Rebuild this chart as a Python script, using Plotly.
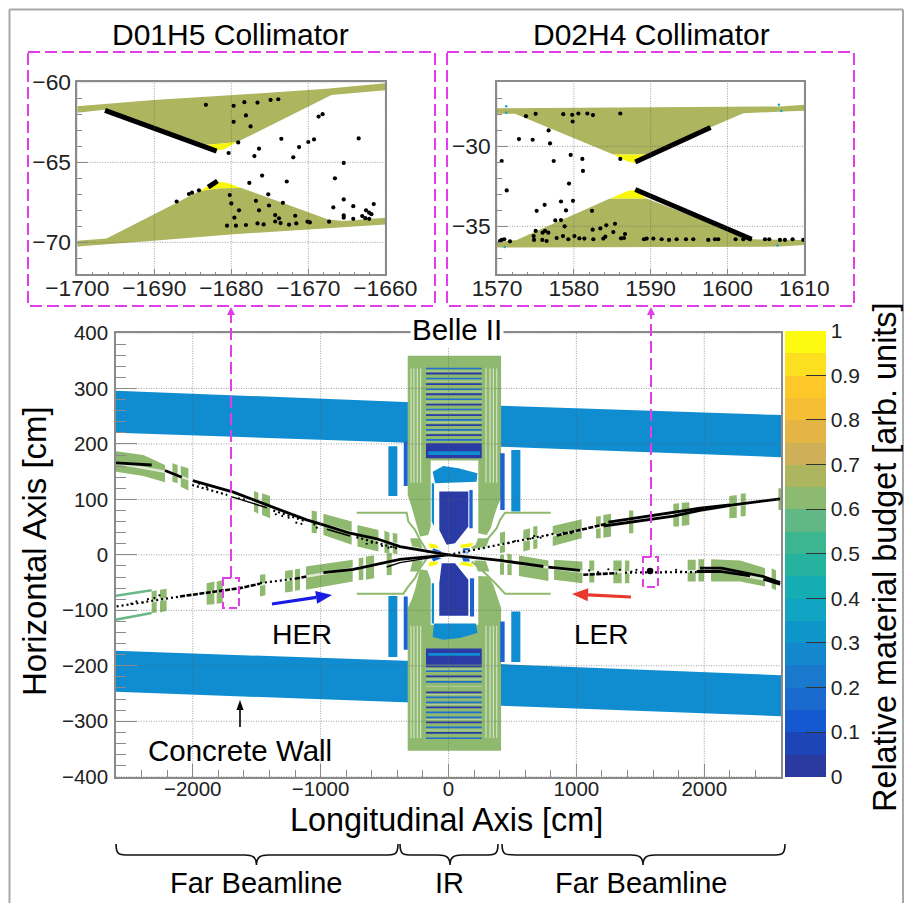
import plotly.graph_objects as go

W, H = 904, 903
FONT = "Liberation Sans"

# ---------- palette (colour bar levels, bottom to top) ----------
LEVELS = ["#2b3a9e", "#1c46b8", "#1559d0", "#1a6ad0", "#1a79cc", "#1488cc", "#0e96c8", "#10a3c2",
          "#14adb4", "#25b29e", "#3cb591", "#62b884", "#8cba70", "#aeb55f", "#cfb058", "#e4b545",
          "#f5be35", "#fdc828", "#fce020", "#fbfa10"]
CB_TICKS = [0, .1, .2, .3, .4, .5, .6, .7, .8, .9, 1]
CB_LABELS = ["0", "0.1", "0.2", "0.3", "0.4", "0.5", "0.6", "0.7", "0.8", "0.9", "1"]
C_WALL = "#0f8dd0"; C_BODY = "#8fb96f"; C_OLIVE = "#adb55e"; C_YEL = "#f8f806"
C_DARK = "#2a3ba6"; C_BLUE = "#1a62d2"; C_TEAL = "#6ab88a"; C_MAG = "#e23de8"

# ---------- main panel data (cm) ----------
WALLS = [
    [(-2600, 296), (-317, 276), (400, 269), (2600, 252), (2600, 176), (400, 195), (-317, 202), (-2600, 220)],
    [(-2600, -173), (-317, -191), (400, -197), (2600, -217), (2600, -291), (400, -272), (-317, -266), (-2600, -247)],
]
BODY = [
    [(-319, 359), (411, 359), (411, 102), (382, 87), (356, 69), (330, 48), (299, 36), (233, 39), (233, 170),
     (-139, 170), (-139, 51), (-158, 36), (-223, 33), (-244, 51), (-270, 75), (-293, 90), (-319, 108)],
    [(-319, -353), (411, -353), (411, -96), (377, -72), (351, -54), (312, -39), (233, -38), (233, -126),
     (-139, -126), (-139, -45), (-165, -28), (-223, -26), (-262, -63), (-288, -81), (-319, -96)],
    [(-300, 30), (-230, 30), (-200, 10), (-280, 10)],
    [(230, 30), (320, 30), (290, 10), (200, 10)],
    [(-300, -30), (-230, -30), (-200, -10), (-280, -10)],
    [(230, -30), (320, -30), (290, -10), (200, -10)],
]
ENDCAP_LIGHT = [
    [(-470, 196), (-400, 196), (-400, 106), (-470, 106)],
    [(491, 189), (562, 189), (562, 78), (491, 78)],
    [(-470, -74), (-400, -74), (-400, -184), (-470, -184)],
    [(491, -102), (562, -102), (562, -193), (491, -193)],
    [(-124, 150), (-40, 160), (77, 156), (226, 147), (220, 132), (-105, 129)],
    [(-124, -148), (-40, -153), (90, -150), (226, -141), (215, -124), (-113, -124)],
    [(-131, 129), (-113, 129), (-113, 51), (-131, 60)],
    [(-131, -51), (-113, -51), (-113, -124), (-131, -124)],
    [(-158, 187), (246, 187), (246, 180), (-158, 180)],
    [(-158, -177), (246, -177), (246, -182), (-158, -182)],
]
ENDCAP_BLUE = [
    [(-350, 204), (-319, 204), (-319, 124), (-350, 124)],
    [(405, 183), (439, 183), (439, 81), (405, 81)],
    [(-350, -75), (-319, -75), (-319, -171), (-350, -171)],
    [(405, -120), (439, -120), (439, -193), (405, -193)],
    [(163, 117), (189, 117), (189, 48), (163, 48)],
    [(168, -42), (200, -42), (200, -111), (168, -111)],
]
CORE = [
    [(-72, 114), (155, 114), (155, 51), (51, 21), (-14, 18), (-72, 45)],
    [(-72, -110), (155, -110), (155, -45), (51, -15), (-53, -15), (-72, -51)],
    [(-176, 201), (260, 201), (260, 174), (-176, 174)],
    [(-176, -169), (260, -169), (260, -198), (-176, -198)],
]
KLM_X = [-176, 260]
KLM_DARK_Y = [327, 308, 289.6, 271, 252, 234, 216, -201, -219, -248, -275, -302, -321]
KLM_BLUE_Y = [336, 318, 298.6, 280.6, 262, 243.4, 225.3, 207.3, -210, -229, -257, -266, -284, -293, -311, -330.6]
KLM_PALE_Y = [331, 313, 294, 276, 257, 239, 221, -206, -224, -237, -252, -270, -297, -316]
SIDE_X = [-293, -270, -244, -218, 293, 325, 351, 377]
SIDE_UP_Y = [336, 130]
SIDE_LOW_Y = [-128, -330]
THIN_GREEN = [
    [(-718, 76), (-327, 76), (-314, 60), (-262, 45), (-223, 27), (-158, 3)],
    [(799, 76), (442, 76), (403, 63), (377, 48), (299, 27), (181, 12)],
    [(-718, -70), (-353, -70), (-314, -57), (-262, -42), (-223, -24), (-158, -3)],
    [(799, -70), (442, -70), (377, -54), (299, -36), (181, -12)],
]
IP_YELLOW = [
    [(-158, 21), (-92, 18), (-79, 12), (-145, 12)],
    [(90, 18), (194, 22), (181, 15), (103, 12)],
    [(-158, -21), (-92, -18), (-79, -12), (-145, -12)],
    [(90, -18), (194, -22), (181, -15), (103, -12)],
]
IP_DARK = [
    [(-119, 12), (-53, 6), (-92, 3), (-132, 6)],
    [(116, 12), (168, 12), (155, 3), (103, 3)],
    [(-119, -12), (-53, -6), (-92, -3), (-132, -6)],
    [(116, -12), (168, -12), (155, -3), (103, -3)],
]
MAGNETS = [
    [(-2605, 187), (-2386, 180), (-2217, 162), (-2217, 131), (-2386, 142), (-2605, 150)],
    [(-2159, 165), (-2118, 162), (-2118, 129), (-2159, 132)],
    [(-2094, 160), (-2034, 156), (-2034, 116), (-2094, 123)],
    [(-1521, 115), (-1487, 112), (-1487, 74), (-1521, 78)],
    [(-1458, 111), (-1395, 106), (-1395, 66), (-1458, 72)],
    [(-1070, 80), (-1030, 78), (-1030, 39), (-1070, 40)],
    [(-978, 74), (-757, 60), (-757, 18), (-978, 36)],
    [(-712, 54), (-548, 45), (-548, 6), (-712, 15)],
    [(-501, 44), (-462, 40), (-462, 3), (-501, 4)],
    [(-436, 40), (-400, 38), (-400, 1), (-436, 3)],
    [(-2321, -66), (-2282, -64), (-2282, -104), (-2321, -105)],
    [(-2256, -63), (-2204, -61), (-2204, -101), (-2256, -104)],
    [(-1891, -51), (-1831, -48), (-1831, -89), (-1891, -90)],
    [(-1813, -48), (-1766, -46), (-1766, -87), (-1813, -88)],
    [(-1474, -36), (-1432, -35), (-1432, -73), (-1474, -75)],
    [(-1278, -29), (-1218, -27), (-1218, -66), (-1278, -68)],
    [(-1200, -26), (-1161, -25), (-1161, -63), (-1200, -65)],
    [(-1114, -21), (-749, -9), (-749, -48), (-1114, -63)],
    [(-702, -6), (-666, -5), (-666, -45), (-702, -46)],
    [(-645, -3), (-582, -1), (-582, -42), (-645, -45)],
    [(-483, 3), (-444, 4), (-444, -36), (-483, -37)],
    [(403, 40), (442, 42), (442, 5), (403, 3)],
    [(585, 45), (637, 48), (637, 9), (585, 6)],
    [(663, 51), (695, 52), (695, 12), (663, 10)],
    [(815, 52), (1041, 64), (1041, 30), (815, 16)],
    [(1154, 69), (1190, 70), (1190, 30), (1154, 30)],
    [(1211, 72), (1271, 74), (1271, 33), (1211, 31)],
    [(1412, 80), (1445, 80), (1445, 39), (1412, 39)],
    [(1758, 92), (1803, 93), (1803, 51), (1758, 51)],
    [(1824, 94), (1883, 95), (1883, 54), (1824, 52)],
    [(2196, 106), (2254, 108), (2254, 67), (2196, 66)],
    [(2285, 110), (2324, 111), (2324, 70), (2285, 69)],
    [(2580, 120), (2600, 120), (2600, 81), (2580, 81)],
    [(403, 0), (434, 0), (434, -36), (403, -36)],
    [(460, 3), (494, 0), (494, -37), (460, -36)],
    [(551, -1), (781, -10), (781, -47), (551, -38)],
    [(825, -9), (1047, -12), (1047, -51), (825, -45)],
    [(1101, -10), (1140, -10), (1140, -50), (1101, -50)],
    [(1289, -10), (1354, -10), (1354, -51), (1289, -51)],
    [(1380, -10), (1414, -10), (1414, -51), (1380, -51)],
    [(1870, -9), (1933, -9), (1933, -48), (1870, -48)],
    [(1954, -8), (1998, -8), (1998, -48), (1954, -48)],
    [(2053, -8), (2280, -10), (2475, -24), (2475, -57), (2280, -48), (2053, -48)],
    [(2527, -24), (2561, -28), (2561, -64), (2527, -60)],
]
TEAL_STRIPS = [[(-2605, -74), (-2321, -64)], [(-2605, -117), (-2321, -105)]]

BEAM_HALO = [
    [(-2605, 166), (-2217, 150), (-1682, 110), (-1109, 63), (-561, 27), (0, 0)],
    [(-2595, -93), (-1630, -60), (-1109, -39), (-535, -16), (0, 0)],
    [(0, 0), (611, 27), (1237, 52), (2201, 88), (2593, 101)],
    [(0, 0), (559, -16), (1028, -30), (1576, -32), (2097, -28), (2593, -50)],
]
BEAM_SOLID = [
    [(-2605, 166), (-2321, 162)],
    [(-2217, 152), (-2086, 140)],
    [(-2000, 134), (-1682, 113), (-1421, 90), (-1109, 63), (-978, 54), (-770, 39), (-561, 29), (-379, 15), (0, 0)],
    [(-978, -32), (-744, -26), (-535, -16), (-379, -8), (0, 0)],
    [(0, 0), (403, -10), (742, -21)],
    [(781, -22), (1028, -28)],
    [(1250, 59), (1967, 84), (2201, 90)],
    [(1211, 52), (1758, 70), (1967, 80), (2228, 90), (2593, 101)],
    [(1941, -30), (2123, -30), (2358, -38)],
    [(1967, -24), (2136, -24), (2462, -39), (2593, -50)],
    [(2462, -44), (2593, -53)],
]
BEAM_THIN = [
    [(-1700, 105), (-1420, 85)],
    [(-950, 46), (-770, 34)],
    [(-483, -22), (-379, -14), (0, 0)],
]
BEAM_DASHED = [
    [(-2099, -75), (-1630, -60), (-1474, -52)],
    [(-1200, -43), (-1109, -39)],
    [(846, 35), (1237, 56)],
    [(1054, -36), (1315, -33)],
]
BEAM_DOTTED = [
    [(-2005, 126), (-1730, 108)],
    [(-1370, 80), (-1110, 60)],
    [(-720, 32), (-380, 10)],
    [(-2595, -93), (-2099, -75)],
    [(-1474, -51), (-1200, -43)],
    [(0, 0), (403, 18), (845, 39)],
    [(1380, -32), (1941, -31)],
]
BLOB_X = [1576]
BLOB_Y = [-29]
SPECK_X = [-2480, -2440, -2390, -2350, -2300, -2260, -1950, -1890, -1640, -1600, -1350, -1300, -1250, -1190, -1150,
           -1050, -1030, -640, -600, -520, -470, -430, 470, 520, 640, 670, 720, 770, 860, 900, 960, 1100, 1170, 1250,
           1340, 1430, 1470, 1640, 1700, 1780, 1820]
SPECK_Y = [-88, -84, -86, -80, -78, -73, 128, 122, 102, 100, 73, 70, 67, 58, 56,
           55, 49, 20, 22, 16, 13, 14, 21, 25, 29, 34, 31, 35, 36, 40, 39, -28, -31, -26,
           -27, -30, -27, -25, -30, -27, -30]

MAIN_XT = [-2000, -1000, 0, 1000, 2000]
MAIN_YT = [-400, -300, -200, -100, 0, 100, 200, 300, 400]

# ---------- D01H5 inset ----------
D01_OLIVE = [
    [(-1700, -61.5), (-1690.1, -61.1), (-1679.7, -60.8), (-1667.6, -60.4), (-1660, -60.06), (-1660, -60.5),
     (-1667, -60.8), (-1679.3, -63.75), (-1683.2, -63.9), (-1696.2, -61.7), (-1700, -61.9)],
    [(-1700, -69.9), (-1696.2, -69.77), (-1684.1, -66.8), (-1681.5, -66.62), (-1678.7, -66.6), (-1667.4, -68.57),
     (-1665.5, -68.67), (-1660, -68.46), (-1660, -68.88), (-1666.8, -69.09), (-1679.7, -69.5), (-1690.1, -69.9),
     (-1700, -70.27)],
]
D01_YELLOW = [
    [(-1683.2, -63.9), (-1679.3, -63.75), (-1681, -64.2), (-1682, -64.25)],
    [(-1684.1, -66.8), (-1682, -66.18), (-1680.5, -66.3), (-1678.7, -66.6), (-1681.5, -66.62)],
]
D01_LINES = [[(-1696.4, -61.76), (-1681.9, -64.3)], [(-1683, -66.55), (-1681.8, -66.17)]]
D01_X = [-1683.3, -1679.7, -1678.3, -1676.6, -1674.9, -1673.9, -1679.7, -1678.1, -1677.5, -1679.1, -1680.35, -1676.4,
         -1677, -1673.5, -1671.2, -1671.95, -1670, -1669.26, -1668.66, -1668.14, -1663.46, -1665.4, -1666.54, -1676,
         -1672.8, -1677.66, -1675.2, -1680.2, -1680, -1676.8, -1675.1, -1673.3, -1679, -1676.4, -1679.6, -1674.3,
         -1673.8, -1671.7, -1674.3, -1673.6, -1672.5, -1671.56, -1670.1, -1669.8, -1667.3, -1666.75, -1665.4, -1664.16,
         -1661.5, -1662.5, -1662.1, -1661.8, -1665.4, -1665.4, -1664.16, -1663, -1662.6, -1662.1, -1680.56, -1679.4,
         -1678.1, -1676.6, -1675.8, -1687.1, -1685.5, -1685.1, -1684.2]
D01_Y = [-61.41, -61.47, -61.24, -61.27, -61.1, -61.06, -62.47, -62.07, -62.76, -63.76, -64.42, -64.15,
         -64.61, -63.53, -64.05, -64.69, -63.73, -63.57, -62.14, -61.99, -63.51, -65.04, -66, -65.83,
         -66.2, -66.29, -67, -67.05, -67.57, -67.41, -67.7, -67.53, -68, -68, -68.46, -68.3,
         -68.5, -68.34, -68.7, -68.8, -68.9, -68.82, -68.71, -68.76, -68.71, -67.82, -67.32, -67.74,
         -67.61, -68, -68.15, -68.24, -68.32, -68.46, -68.53, -68.36, -68.49, -68.53, -68.96, -68.96,
         -68.92, -68.82, -68.88, -67.45, -66.98, -66.9, -66.75]
D01_XT = [-1700, -1690, -1680, -1670, -1660]
D01_YT = [-70, -65, -60]

# ---------- D02H4 inset ----------
D02_OLIVE = [
    [(1570, -27.62), (1606.83, -27.51), (1610, -27.41), (1610, -27.78), (1607.3, -27.83), (1602.06, -27.93),
     (1598.6, -28.66), (1589.48, -30.52), (1585.14, -30.52), (1572.34, -27.97), (1570, -27.97)],
    [(1570, -36.02), (1572.56, -35.85), (1584.7, -33.26), (1589.48, -33.26), (1603.15, -35.81), (1610, -35.85),
     (1610, -36.17), (1606.8, -36.27), (1570, -36.33)],
]
D02_YELLOW = [
    [(1585.14, -30.52), (1589.48, -30.52), (1588, -31.05), (1587, -30.95)],
    [(1584.7, -33.26), (1589.48, -33.26), (1588, -32.72), (1587, -32.8)],
]
D02_LINES = [[(1588, -30.98), (1597.8, -28.82)], [(1588, -32.7), (1603.15, -35.81)]]
D02_X = [1573.77, 1575.03, 1578.63, 1579.8, 1580.59, 1581.76, 1582.49, 1586.05, 1579.85, 1576.72, 1572.86, 1574.64,
         1576.9, 1579.59, 1581.11, 1577.38, 1570.61, 1586.05, 1581.19, 1579.37, 1571.26, 1579.89, 1578.33, 1576.2,
         1575.16, 1578.98, 1582.36, 1577.59, 1578.33, 1578.8, 1584.23, 1585.36, 1583.45, 1582.45, 1585.14, 1586.66,
         1575.03, 1576.25, 1576.68, 1574.77, 1574.82, 1575.94, 1575.9, 1576.46, 1577.77, 1578.59, 1579.28, 1580.07,
         1580.72, 1581.37, 1582.54, 1583.84, 1584.1, 1586.14, 1586.53, 1570.61, 1570.95, 1571.69, 1570.39, 1589.13,
         1589.48, 1590.35, 1591.43, 1592.39, 1593.38, 1594.6, 1595.55, 1597.5, 1598.37, 1598.8, 1601.06, 1602.06,
         1602.93, 1604.88, 1605.44, 1606.83, 1607.48, 1608.48, 1609.87]
D02_Y = [-28.12, -27.97, -27.99, -28.03, -27.95, -27.95, -28.05, -27.95, -28.45, -29.01, -29.55, -29.59,
         -29.82, -30.54, -30.79, -30.92, -30.92, -30.79, -31.54, -32.33, -32.76, -33.41, -33.45, -33.66,
         -34.03, -34.01, -34.03, -34.63, -34.61, -35, -34.94, -34.84, -35.13, -35.21, -35.36, -35.48,
         -35.29, -35.29, -35.4, -35.61, -35.85, -35.4, -35.85, -35.92, -35.73, -35.61, -35.81, -35.61,
         -35.75, -35.77, -35.81, -35.77, -35.65, -35.75, -35.73, -35.85, -35.81, -35.94, -35.92, -35.81,
         -35.77, -35.77, -35.81, -35.85, -35.81, -35.81, -35.81, -35.85, -35.81, -35.81, -35.81, -35.81,
         -35.81, -35.81, -35.81, -35.85, -35.85, -35.81, -35.85]
D02_SPECK_X = [1571.2, 1571.2, 1606.7, 1607, 1571, 1606.5]
D02_SPECK_Y = [-27.5, -27.9, -27.4, -27.8, -36.3, -36.2]
D02_XT = [1570, 1580, 1590, 1600, 1610]
D02_YT = [-35, -30]


# ---------- helpers ----------
def join(polys):
    xs, ys = [], []
    for p in polys:
        xs += [a for a, _ in p] + [None]
        ys += [b for _, b in p] + [None]
    return xs, ys


fig = go.Figure()


def fill(polys, color, ax=""):
    xs, ys = join(polys)
    fig.add_trace(go.Scatter(x=xs, y=ys, mode="lines", fill="toself", fillcolor=color, line=dict(width=0),
                             xaxis="x" + ax, yaxis="y" + ax, hoverinfo="skip", showlegend=False))


def lines(polys, color, width, dash="solid", ax=""):
    xs, ys = join(polys)
    fig.add_trace(go.Scatter(x=xs, y=ys, mode="lines", line=dict(color=color, width=width, dash=dash),
                             xaxis="x" + ax, yaxis="y" + ax, hoverinfo="skip", showlegend=False))


def grid(xt, yt, xr, yr, ax=""):
    segs = [[(v, yr[0]), (v, yr[1])] for v in xt] + [[(xr[0], v), (xr[1], v)] for v in yt]
    lines(segs, "rgba(95,95,95,0.6)", 1, "1px,1.5px", ax)


def hl(ys, x, color, width):
    lines([[(x[0], v), (x[1], v)] for v in ys], color, width)


def vl(xs, y, color, width):
    lines([[(v, y[0]), (v, y[1])] for v in xs], color, width)


# ---------- main panel ----------
XR, YR = [-2600, 2600], [-400, 400]
fill(WALLS, C_WALL)
fill(BODY, C_BODY)
vl(SIDE_X, SIDE_UP_Y, "#d3e2c6", 1.2)
vl(SIDE_X, SIDE_LOW_Y, "#d3e2c6", 1.2)
hl(KLM_PALE_Y, KLM_X, "#b4d0a0", 1)
hl(KLM_BLUE_Y, KLM_X, "#1f6fd0", 1.6)
hl(KLM_DARK_Y, KLM_X, C_DARK, 1.8)
fill(CORE, C_DARK)
fill(ENDCAP_BLUE, C_BLUE)
fill(ENDCAP_LIGHT, C_WALL)
lines(THIN_GREEN, C_BODY, 2)
lines(TEAL_STRIPS, C_TEAL, 2.5)
fill(MAGNETS, C_BODY)
fill(IP_YELLOW, C_YEL)
fill(IP_DARK, C_BLUE)
lines(BEAM_HALO, "rgba(255,255,255,0.7)", 2.5)
lines(BEAM_THIN, "black", 1.5)
lines(BEAM_DASHED, "black", 2.6, "5px,1.5px")
lines(BEAM_DOTTED, "black", 2.2, "2px,3px")
lines(BEAM_SOLID, "black", 2.8)
fig.add_trace(go.Scatter(x=SPECK_X, y=SPECK_Y, mode="markers", marker=dict(color="black", size=2.2),
                         hoverinfo="skip", showlegend=False))
fig.add_trace(go.Scatter(x=BLOB_X, y=BLOB_Y, mode="markers", marker=dict(color="black", size=6.5),
                         hoverinfo="skip", showlegend=False))
grid(MAIN_XT, MAIN_YT, XR, YR)

# colour bar carrier
scale = []
for i, c in enumerate(LEVELS):
    scale += [[i / 20, c], [(i + 1) / 20, c]]
fig.add_trace(go.Scatter(x=[0, 0], y=[-1000, -1000], mode="markers", hoverinfo="skip", showlegend=False,
                         marker=dict(color=[0, 1], cmin=0, cmax=1, colorscale=scale, showscale=True, size=1,
                                     colorbar=dict(x=785 / W, xanchor="left", xpad=0, ypad=0, thickness=41,
                                                   y=1 - 776.7 / H, yanchor="bottom", len=445.7 / H,
                                                   outlinewidth=0, tickmode="array", tickvals=CB_TICKS,
                                                   ticktext=CB_LABELS, ticks="inside", ticklen=20,
                                                   tickcolor="#333", tickwidth=1,
                                                   tickfont=dict(family=FONT, size=21, color="#222")))))

# ---------- D01H5 ----------
fill(D01_OLIVE, C_OLIVE, "2")
fill(D01_YELLOW, C_YEL, "2")
lines(D01_LINES, "black", 5, ax="2")
fig.add_trace(go.Scatter(x=D01_X, y=D01_Y, mode="markers", marker=dict(color="black", size=4.2),
                         xaxis="x2", yaxis="y2", hoverinfo="skip", showlegend=False))
grid(D01_XT, D01_YT, [-1700, -1660], [-72, -60], "2")

# ---------- D02H4 ----------
fill(D02_OLIVE, C_OLIVE, "3")
fill(D02_YELLOW, C_YEL, "3")
lines(D02_LINES, "black", 5, ax="3")
fig.add_trace(go.Scatter(x=D02_X, y=D02_Y, mode="markers", marker=dict(color="black", size=4.2),
                         xaxis="x3", yaxis="y3", hoverinfo="skip", showlegend=False))
fig.add_trace(go.Scatter(x=D02_SPECK_X, y=D02_SPECK_Y, mode="markers", marker=dict(color="#20a0c8", size=2.5),
                         xaxis="x3", yaxis="y3", hoverinfo="skip", showlegend=False))
grid(D02_XT, D02_YT, [1570, 1610], [-38, -26], "3")


# ---------- page furniture (pixel positions on the page) ----------
def px(x):
    return x / W


def py(y):
    return 1 - y / H


shapes = []


def seg(x0, y0, x1, y1, color, width, dash="solid"):
    shapes.append(dict(type="line", xref="paper", yref="paper", x0=px(x0), y0=py(y0), x1=px(x1), y1=py(y1),
                       line=dict(color=color, width=width, dash=dash)))


def arrow(x0, y0, x1, y1, color, width, hl_, hw, dash="solid"):
    dx, dy = x1 - x0, y1 - y0
    n = (dx * dx + dy * dy) ** .5
    ux, uy = dx / n, dy / n
    bx, by = x1 - ux * hl_, y1 - uy * hl_
    seg(x0, y0, bx, by, color, width, dash)
    a = (bx - uy * hw / 2, by + ux * hw / 2)
    b = (bx + uy * hw / 2, by - ux * hw / 2)
    path = f"M {px(x1)},{py(y1)} L {px(a[0])},{py(a[1])} L {px(b[0])},{py(b[1])} Z"
    shapes.append(dict(type="path", xref="paper", yref="paper", path=path, fillcolor=color, line=dict(width=0)))


def box(x0, y0, x1, y1, color, width, dash):
    shapes.append(dict(type="rect", xref="paper", yref="paper", x0=px(x0), y0=py(y0), x1=px(x1), y1=py(y1),
                       line=dict(color=color, width=width, dash=dash)))


def brace(x0, x1, tip):
    t, m, b = 844, 855, 865
    p = (f"M {px(x0)},{py(t)} C {px(x0)},{py(m)} {px(x0+3)},{py(m)} {px(x0+14)},{py(m)} "
         f"L {px(tip-12)},{py(m)} C {px(tip-4)},{py(m)} {px(tip)},{py(m+2)} {px(tip)},{py(b)} "
         f"C {px(tip)},{py(m+2)} {px(tip+4)},{py(m)} {px(tip+12)},{py(m)} "
         f"L {px(x1-14)},{py(m)} C {px(x1-3)},{py(m)} {px(x1)},{py(m)} {px(x1)},{py(t)}")
    shapes.append(dict(type="path", xref="paper", yref="paper", path=p, line=dict(color="#111", width=1.6)))


# outer frame
seg(9.5, 9.5, 903, 9.5, "#a8a8a8", 2)
seg(9.5, 9.5, 9.5, 903, "#a8a8a8", 2)
seg(903, 9.5, 903, 903, "#a8a8a8", 2)
DASH = "12px,5px"
box(28, 52, 435, 306, C_MAG, 2, DASH)
box(447, 52, 854, 306, C_MAG, 2, DASH)
box(223, 578, 239, 608, C_MAG, 2, "8px,4px")
box(643, 557, 658, 587, C_MAG, 2, "8px,4px")
arrow(231, 578, 231, 307, C_MAG, 2, 8, 8, DASH)
arrow(651, 557, 651, 307, C_MAG, 2, 8, 8, DASH)
arrow(240, 727, 240, 700, "black", 1.6, 10, 7)
arrow(272, 604, 332, 595, "#1a1ae6", 3.2, 16, 13)
arrow(631, 597, 572, 594, "#e8392c", 3.2, 16, 13)
brace(116, 398, 256.5)
brace(400, 498, 450)
brace(502, 785, 643)


def note(text, x, y, size, angle=0, bg=None):
    return dict(text=text, xref="paper", yref="paper", x=px(x), y=py(y), xanchor="center", yanchor="middle",
                showarrow=False, textangle=angle, bgcolor=bg, borderpad=1,
                font=dict(family=FONT, size=size, color="black"))


annotations = [
    note("D01H5 Collimator", 231, 35, 30),
    note("D02H4 Collimator", 651, 35, 30),
    note("Belle II", 457, 329, 29.5, bg="white"),
    note("HER", 302, 634, 28.4),
    note("LER", 601, 634, 28),
    note("Concrete Wall", 240, 750, 29.5),
    note("Longitudinal Axis [cm]", 446, 820, 32.4),
    note("Horizontal Axis [cm]", 34, 551, 33, angle=-90),
    note("Relative material budget [arb. units]", 885, 557, 32.4, angle=-90),
    note("Far Beamline", 256, 883, 29),
    note("IR", 449, 883, 29),
    note("Far Beamline", 641, 883, 29),
]


def axis(dom, rng, anchor, major, minor_dtick, ticklen, minorlen, fs, standoff):
    return dict(domain=dom, range=rng, anchor=anchor, showgrid=False, zeroline=False, showline=True, mirror=True,
                linecolor="#8a8a8a", linewidth=1.5, ticks="inside", ticklen=ticklen, tickcolor="#8a8a8a",
                tickwidth=1.2, tickmode="array", tickvals=major, automargin=False,
                minor=dict(dtick=minor_dtick, tick0=rng[0], ticks="inside", ticklen=minorlen, tickcolor="#8a8a8a",
                           tickwidth=1.2, showgrid=False),
                tickfont=dict(family=FONT, size=fs, color="#222"), ticklabelstandoff=standoff)


fig.update_layout(
    width=W, height=H, autosize=False, margin=dict(l=0, r=0, t=0, b=0, pad=0, autoexpand=False),
    paper_bgcolor="white", plot_bgcolor="white", showlegend=False, shapes=shapes, annotations=annotations,
    xaxis=axis([116 / W, 781 / W], XR, "y", MAIN_XT, 200, 13, 7, 20.5, -7),
    yaxis=axis([py(776.7), py(333)], YR, "x", MAIN_YT, 20, 21, 10, 20.5, 2),
    xaxis2=axis([77.3 / W, 385.3 / W], [-1700, -1660], "y2", D01_XT, 2, 6, 3, 22.8, -7),
    yaxis2=axis([py(274.3), py(82.3)], [-72, -60], "x2", D01_YT, 1, 11, 5, 22.8, 0),
    xaxis3=axis([497 / W, 804.3 / W], [1570, 1610], "y3", D02_XT, 2, 6, 3, 22.8, -7),
    yaxis3=axis([py(274.3), py(82.3)], [-38, -26], "x3", D02_YT, 1, 11, 5, 22.8, 0),
)

fig.write_html("out.html", config=dict(displayModeBar=False),
               post_script="document.body.style.margin='0';document.documentElement.style.overflow='hidden';")
